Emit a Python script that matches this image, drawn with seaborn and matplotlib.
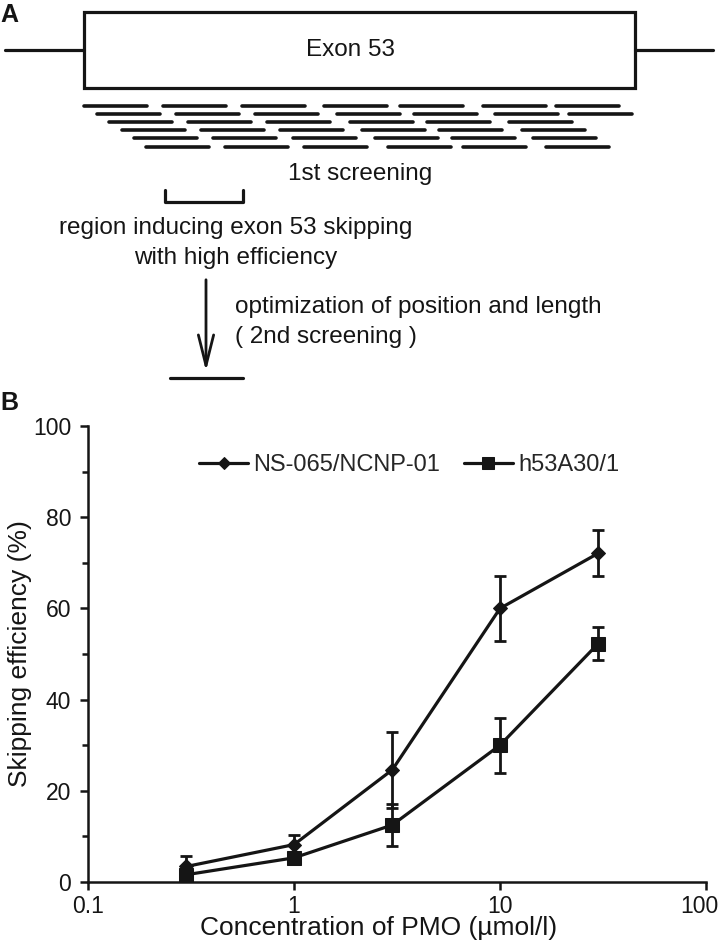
import numpy as np
import pandas as pd
import seaborn as sns
import matplotlib
matplotlib.use("Agg")
import matplotlib.pyplot as plt
import matplotlib.transforms as mtransforms

# dados do painel B
conc = [0.3, 1, 3, 10, 30]
ns065 = [3.4, 8.2, 24.6, 60.0, 72.1]
ns065_err = [2.3, 2.1, 8.4, 7.1, 5.0]
h53 = [1.6, 5.3, 12.5, 30.0, 52.3]
h53_err = [1.0, 0.8, 4.6, 6.0, 3.7]
series_names = ["NS-065/NCNP-01", "h53A30/1"]
x_ticks = [0.1, 1, 10, 100]
x_ticklabels = ["0.1", "1", "10", "100"]
y_ticks = [0, 20, 40, 60, 80, 100]

sns.set_style("ticks")
plt.rcParams['font.family'] = ['Liberation Sans', 'DejaVu Sans']

W, H = 718, 946
fig = plt.figure(figsize=(W / 100, H / 100), dpi=100)

# ---- painel A: esquema (coordenadas em pixels) ----
ax0 = fig.add_axes([0, 0, 1, 1])
ax0.set_xlim(0, W)
ax0.set_ylim(H, 0)
ax0.axis("off")
k = "#151515"
fs = 17.5

ax0.text(0, 15, "A", fontsize=18, fontweight="bold", va="center", ha="left", color=k)
ax0.add_patch(plt.Rectangle((84, 12), 551, 76, fill=False, lw=2.3, ec=k))
ax0.plot([5, 84], [50, 50], color=k, lw=2.3)
ax0.plot([635, 713], [50, 50], color=k, lw=2.3)
ax0.text(350, 50, "Exon 53", fontsize=fs, ha="center", va="center", color=k)

row_y = [106, 114, 122, 130, 138, 147]
row_starts = [
    [84, 163, 242, 324, 400, 483, 556],
    [97, 176, 255, 337, 414, 495, 569],
    [109, 188, 267, 350, 427, 509],
    [122, 201, 280, 362, 439, 522],
    [134, 213, 293, 375, 452, 533],
    [146, 225, 304, 388, 463, 546],
]
for y, starts in zip(row_y, row_starts):
    for s in starts:
        ax0.plot([s, s + 63], [y, y], color=k, lw=2.6, solid_capstyle="round")

ax0.text(360, 174, "1st screening", fontsize=fs, ha="center", va="center", color=k)
ax0.plot([165, 165, 243, 243], [190, 202, 202, 190], color=k, lw=2.3)
ax0.text(236, 228, "region inducing exon 53 skipping", fontsize=fs, ha="center", va="center", color=k)
ax0.text(236, 258, "with high efficiency", fontsize=fs, ha="center", va="center", color=k)
ax0.annotate("", xy=(206, 374), xytext=(206, 277),
             arrowprops=dict(arrowstyle="->,head_length=2.2,head_width=0.55", lw=2, color=k))
ax0.text(235, 307, "optimization of position and length", fontsize=fs, ha="left", va="center", color=k)
ax0.text(235, 337, "( 2nd screening )", fontsize=fs, ha="left", va="center", color=k)
ax0.plot([170, 243], [378, 378], color=k, lw=2.3)
ax0.text(0, 403, "B", fontsize=18, fontweight="bold", va="center", ha="left", color=k)

# ---- painel B: curva dose-resposta ----
ax = fig.add_axes([88 / W, 1 - 882 / H, (706 - 88) / W, (882 - 426) / H])

df = pd.DataFrame({
    "conc": conc * 2,
    "eff": ns065 + h53,
    "oligo": [series_names[0]] * len(conc) + [series_names[1]] * len(conc),
})
sns.lineplot(data=df, x="conc", y="eff", hue="oligo", style="oligo",
             markers={series_names[0]: "D", series_names[1]: "s"}, dashes=False,
             palette=[k, k], markersize=8, linewidth=2.3, markeredgecolor=k,
             ax=ax)
ax.errorbar(conc, ns065, yerr=ns065_err, fmt="none", ecolor=k, elinewidth=2,
            capsize=4.5, capthick=2)
ax.errorbar(conc, h53, yerr=h53_err, fmt="none", ecolor=k, elinewidth=2,
            capsize=4.5, capthick=2)
# tamanho dos marcadores
for l in ax.get_lines():
    if l.get_marker() == "D":
        l.set_markersize(7.5)
    elif l.get_marker() == "s":
        l.set_markersize(10)

ax.set_xscale("log")
ax.set_xlim(0.1, 100)
ax.set_ylim(0, 100)
ax.set_xticks(x_ticks)
ax.set_xticklabels(x_ticklabels)
ax.xaxis.set_minor_locator(matplotlib.ticker.NullLocator())
ax.set_yticks(y_ticks)
ax.yaxis.set_minor_locator(matplotlib.ticker.MultipleLocator(10))
ax.tick_params(axis="both", which="major", labelsize=16.5, length=6, width=1.8, color=k, labelcolor=k)
ax.tick_params(axis="x", which="major", pad=3)
ax.tick_params(axis="y", which="major", pad=6)
ax.tick_params(axis="y", which="minor", length=4, width=1.8, color=k)
for side in ["left", "bottom"]:
    ax.spines[side].set_linewidth(1.8)
    ax.spines[side].set_color(k)
sns.despine(ax=ax)

# ultimo rotulo do eixo x um pouco para a esquerda (como no original)
last = ax.get_xticklabels()[-1]
last.set_transform(last.get_transform() + mtransforms.ScaledTranslation(-0.07, 0, fig.dpi_scale_trans))

ax.set_xlabel("Concentration of PMO (\u00b5mol/l)", fontsize=19, color=k)
ax.set_ylabel("Skipping efficiency (%)", fontsize=19, color=k)
ax.xaxis.set_label_coords(0.47, -0.075)
ax.yaxis.set_label_coords(-0.09, 0.5)

leg = ax.legend(loc="upper left", bbox_to_anchor=(0.145, 0.985), ncol=2, frameon=False,
                fontsize=17, handlelength=2.1, handletextpad=0.2, columnspacing=1.0)
for h in leg.legend_handles:
    h.set_markersize(6 if h.get_marker() == "D" else 9)

fig.savefig("out.png", dpi=100)
